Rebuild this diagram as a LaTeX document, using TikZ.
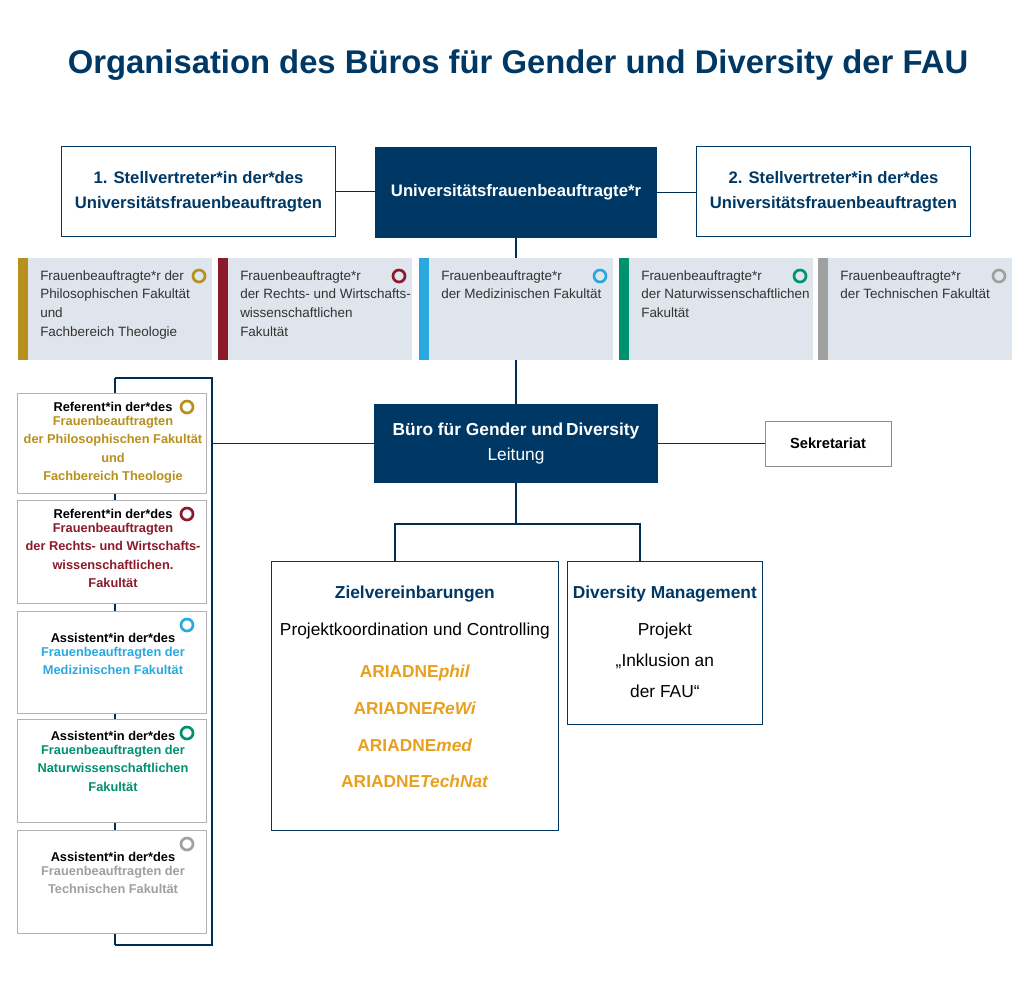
\documentclass[tikz,border=0pt]{standalone}
\usepackage{fontspec}
\setmainfont{Liberation Sans}
\usetikzlibrary{positioning}
\definecolor{fauBlue}{RGB}{0,56,101}
\definecolor{facBg}{RGB}{223,229,236}
\definecolor{cPhil}{RGB}{184,144,28}
\definecolor{cReWi}{RGB}{139,26,43}
\definecolor{cMed}{RGB}{41,169,224}
\definecolor{cNat}{RGB}{0,145,110}
\definecolor{cTech}{RGB}{160,160,160}
\definecolor{cAriadne}{RGB}{232,160,32}
\tikzset{
  outbox/.style={draw=fauBlue,line width=0.8pt,fill=white,align=center,inner sep=0pt},
  headbox/.style={fill=fauBlue,text=white,align=center,inner sep=0pt},
  refbox/.style={draw=black!30,fill=white,inner sep=0pt},
  conn/.style={draw=fauBlue!80!black,line width=0.8pt},
  ring/.style={draw=#1,line width=2pt,circle,minimum size=9pt,inner sep=0pt}
}
\begin{document}
\begin{tikzpicture}[x=0.75pt,y=0.75pt,yscale=-1,xscale=1]
\useasboundingbox (0,0) rectangle (1024,983);

% title
\node (title) [font=\fontsize{24.6}{28}\selectfont\bfseries,text=fauBlue] at (518,65) {Organisation des Büros für Gender und Diversity der FAU};

% top row
\node (stv1) [outbox,minimum width=205pt,minimum height=68pt,font=\fontsize{12.5}{19}\selectfont\bfseries,text=fauBlue] at (198.5,191.5) {1. Stellvertreter*in der*des\\Universitätsfrauenbeauftragten};
\node (ufb) [headbox,minimum width=211.5pt,minimum height=68pt,font=\fontsize{12.5}{18}\selectfont\bfseries] at (516,192.5) {Universitätsfrauenbeauftragte*r};
\node (stv2) [outbox,minimum width=205pt,minimum height=68pt,font=\fontsize{12.5}{19}\selectfont\bfseries,text=fauBlue] at (833.5,191.5) {2. Stellvertreter*in der*des\\Universitätsfrauenbeauftragten};
\draw [conn] (stv1.east) -- (stv1.east -| ufb.west);
\draw [conn] (ufb.east) -- (stv2.west |- ufb.east);

% faculty row
\foreach \x/\c/\t [count=\i] in {18/cPhil/{Frauenbeauftragte*r der\\Philosophischen Fakultät\\und\\Fachbereich Theologie},
  218/cReWi/{Frauenbeauftragte*r\\der Rechts- und Wirtschafts-\\wissenschaftlichen\\Fakultät},
  419/cMed/{Frauenbeauftragte*r\\der Medizinischen Fakultät},
  619/cNat/{Frauenbeauftragte*r\\der Naturwissenschaftlichen\\Fakultät},
  818/cTech/{Frauenbeauftragte*r\\der Technischen Fakultät}}{
  \fill [facBg] (\x,258) rectangle ++(194,102);
  \fill [\c] (\x,258) rectangle ++(10,102);
  \node (fac\i) [anchor=north west,align=left,inner sep=0pt,font=\fontsize{10.1}{14.2}\selectfont,text=black!80] at (\x+22,270) {\t};
  \node (facring\i) [ring=\c] at (\x+181,276) {};
}
\coordinate (facTop) at (516,258);
\coordinate (facBot) at (516,360);
\draw [conn] (ufb.south) -- (facTop);

% office
\node (buero) [headbox,minimum width=213pt,minimum height=59pt,font=\fontsize{13}{19}\selectfont] at (516,443.5) {\textbf{Büro für Gender und\,Diversity}\\Leitung};
\node (sekr) [refbox,draw=black!45,minimum width=94.5pt,minimum height=34pt,font=\fontsize{11}{13}\selectfont\bfseries] at (828,443.5) {Sekretariat};
\draw [conn] (facBot) -- (buero.north);
\draw [conn] (buero.east) -- (sekr.west);

% left column
\coordinate (brTop) at (115,378);
\coordinate (brTR) at (212,378);
\coordinate (brBR) at (212,945);
\coordinate (brBot) at (115,945);
\draw [conn] (brTop) -- (brTR) -- (brBR) -- (brBot);
\draw [conn] (brTR |- buero.west) -- (buero.west);
\draw [conn] (brTop) -- (brBot);
\foreach \ya/\yb/\c/\h/\t [count=\i] in {393/493/cPhil/Referent/{Frauenbeauftragten\\der Philosophischen Fakultät\\und\\Fachbereich Theologie},
  500/603/cReWi/Referent/{Frauenbeauftragten\\der Rechts- und Wirtschafts-\\wissenschaftlichen.\\Fakultät},
  611/713/cMed/Assistent/{Frauenbeauftragten der\\Medizinischen Fakultät},
  719/822/cNat/Assistent/{Frauenbeauftragten der\\Naturwissenschaftlichen\\Fakultät},
  830/933/cTech/Assistent/{Frauenbeauftragten der\\Technischen Fakultät}}{
  \draw [refbox] (17,\ya) rectangle (206,\yb);
  \node (ref\i) [anchor=north,align=center,inner sep=0pt,font=\fontsize{9.6}{13.6}\selectfont\bfseries,text=black] at (113,\ya+\ifnum\i>2 \ifnum\i=4 12\else 22\fi\else 9\fi) {\h*in der*des};
  \node (reft\i) [below=3.2pt of ref\i,align=center,inner sep=0pt,font=\fontsize{9.6}{13.6}\selectfont\bfseries,text=\c] {\t};
  \node (refring\i) [ring=\c] at (187,\ya+14) {};
}

% lower part
\coordinate (split) at (516,524);
\node (ziel) [outbox,minimum width=215pt,minimum height=201.5pt,anchor=north west] at (271,561) {};
\node (divm) [outbox,minimum width=146pt,minimum height=122pt,anchor=north west] at (567,561) {};
\draw [conn] (buero.south) -- (split);
\draw [conn] (ziel.north -| 395,0) |- (split) -| (divm.north -| 640,0);

\node (zielhead) [anchor=north,inner sep=0pt,font=\fontsize{13}{16}\selectfont\bfseries,text=fauBlue] at (ziel.north |- 0,586) {Zielvereinbarungen};
\node (zielsub) [anchor=north,inner sep=0pt,font=\fontsize{13}{16}\selectfont] at (ziel.north |- 0,623) {Projektkoordination und Controlling};
\node (ariadne) [anchor=north,align=center,inner sep=0pt,font=\fontsize{13}{27.5}\selectfont\bfseries,text=cAriadne] at (ziel.north |- 0,665) {ARIADNE\textit{phil}\\ARIADNE\textit{ReWi}\\ARIADNE\textit{med}\\ARIADNE\textit{TechNat}};
\node (divhead) [anchor=north,inner sep=0pt,font=\fontsize{13}{16}\selectfont\bfseries,text=fauBlue] at (divm.north |- 0,586) {Diversity Management};
\node (divtxt) [anchor=north,align=center,inner sep=0pt,font=\fontsize{13}{23}\selectfont] at (divm.north |- 0,623) {Projekt\\„Inklusion an\\der FAU“};
\end{tikzpicture}
\end{document}
